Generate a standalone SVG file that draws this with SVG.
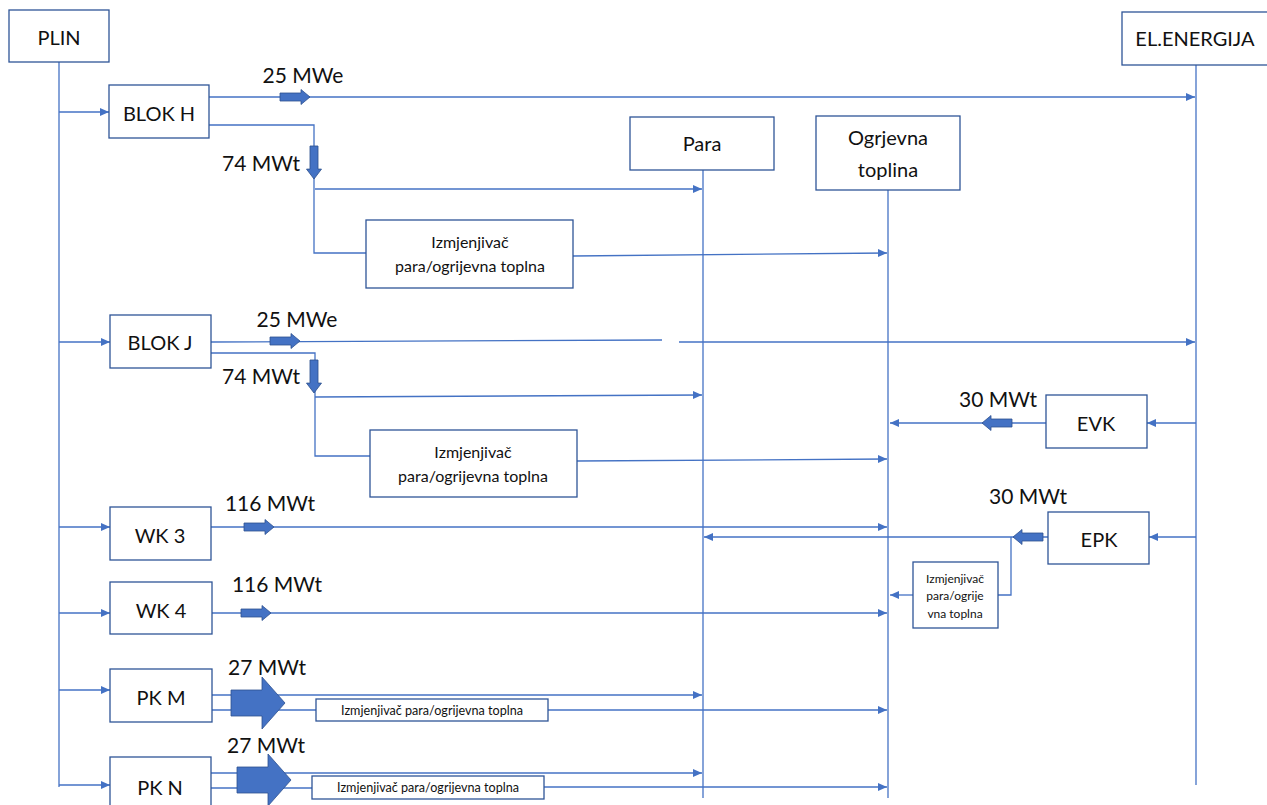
<svg xmlns="http://www.w3.org/2000/svg" width="1267" height="805" viewBox="0 0 1267 805">
<style>
.box{fill:#fff;stroke:#2F5597;stroke-width:1.3}
.ln{fill:none;stroke:#4472C4;stroke-width:1.3}
.ar{marker-end:url(#ah)}
.thk{fill:#4472C4;stroke:#2F528F;stroke-width:0.8}
.t{font-family:Lato,"Liberation Sans",sans-serif;fill:#111;text-anchor:middle}
.n{font-size:20px}
.lb{font-size:21px}
.m{font-size:16px}
.s{font-size:12px}
.s2{font-size:12.6px}
</style>
<defs>
<marker id="ah" markerUnits="userSpaceOnUse" markerWidth="10" markerHeight="10" refX="9" refY="4" orient="auto">
<path d="M0,0 L9,4 L0,8 z" fill="#4472C4"/>
</marker>
<path id="ma" d="M-30,-4 H-9 V-7.5 L0,0 L-9,7.5 V4 H-30 Z"/>
<path id="ba" d="M-54,-13 H-23 V-26 L0,0 L-23,26 V13 H-54 Z"/>
</defs>

<g id="connectors">
<path class="ln" d="M59,62 V787"/>
<path class="ln" d="M703,170 V798"/>
<path class="ln" d="M888,190 V798"/>
<path class="ln" d="M1196,65 V785"/>
<path class="ln ar" d="M59,112 H109"/>
<path class="ln ar" d="M59,342 H110"/>
<path class="ln ar" d="M59,527 H110"/>
<path class="ln ar" d="M59,613 H110"/>
<path class="ln ar" d="M59,690 H110"/>
<path class="ln ar" d="M59,785 H110"/>
<path class="ln ar" d="M209,97 H1195"/>
<path class="ln" d="M209,125 H314 V253 H366"/>
<path class="ln ar" d="M315,189 H702"/>
<path class="ln ar" d="M573,256 L887,253"/>
<path class="ln" d="M211,342 L662,340"/>
<path class="ln ar" d="M679,342 H1195"/>
<path class="ln" d="M211,353 H315 V456 H370"/>
<path class="ln ar" d="M315,397 L702,395"/>
<path class="ln ar" d="M577,461 L887,459"/>
<path class="ln ar" d="M1196,423 H1147"/>
<path class="ln ar" d="M1046,423 H890"/>
<path class="ln ar" d="M1196,537 H1149"/>
<path class="ln ar" d="M1048,537 H704"/>
<path class="ln" d="M1011,537 V595 H998"/>
<path class="ln ar" d="M913,595 H890"/>
<path class="ln ar" d="M211,527 H887"/>
<path class="ln ar" d="M212,613 H887"/>
<path class="ln ar" d="M212,695 H702"/>
<path class="ln" d="M212,710 H316"/>
<path class="ln ar" d="M548,710 H887"/>
<path class="ln ar" d="M211,773 H702"/>
<path class="ln" d="M211,788 H312"/>
<path class="ln ar" d="M544,787 H887"/>
<use href="#ma" class="thk" transform="translate(310,97)"/>
<use href="#ma" class="thk" transform="translate(314,179) rotate(90) scale(1.1,1)"/>
<use href="#ma" class="thk" transform="translate(300,341)"/>
<use href="#ma" class="thk" transform="translate(314,393) rotate(90) scale(1.1,1)"/>
<use href="#ma" class="thk" transform="translate(274,527)"/>
<use href="#ma" class="thk" transform="translate(271,613)"/>
<use href="#ma" class="thk" transform="translate(982,423) rotate(180)"/>
<use href="#ma" class="thk" transform="translate(1013,537) rotate(180)"/>
<use href="#ba" class="thk" transform="translate(285,703)"/>
<use href="#ba" class="thk" transform="translate(291,780)"/>
</g>

<g id="labels">
<text class="t lb" x="303" y="83">25 MWe</text>
<text class="t lb" x="261" y="171">74 MWt</text>
<text class="t lb" x="297" y="327">25 MWe</text>
<text class="t lb" x="261" y="384">74 MWt</text>
<text class="t lb" x="998" y="407">30 MWt</text>
<text class="t lb" x="1028" y="504">30 MWt</text>
<text class="t lb" x="270" y="511">116 MWt</text>
<text class="t lb" x="277" y="592">116 MWt</text>
<text class="t lb" x="267" y="675">27 MWt</text>
<text class="t lb" x="266" y="753">27 MWt</text>
</g>

<g id="plin"><rect class="box" x="9" y="10" width="100" height="52"/><text class="t n" x="59" y="45">PLIN</text></g>
<g id="el-energija"><rect class="box" x="1122" y="12" width="150" height="53"/><text class="t n" x="1195" y="46">EL.ENERGIJA</text></g>
<g id="blok-h"><rect class="box" x="109" y="85" width="100" height="53"/><text class="t n" x="159" y="121">BLOK H</text></g>
<g id="para"><rect class="box" x="630" y="117" width="144" height="53"/><text class="t n" x="702" y="151">Para</text></g>
<g id="ogrjevna"><rect class="box" x="816" y="116" width="144" height="74"/><text class="t n" x="888" y="145">Ogrjevna</text><text class="t n" x="888" y="177">toplina</text></g>
<g id="izm-h"><rect class="box" x="366" y="220" width="207" height="68"/><text class="t m" x="470" y="248">Izmjenjivač</text><text class="t m" x="470" y="272">para/ogrijevna toplna</text></g>
<g id="blok-j"><rect class="box" x="110" y="315" width="101" height="53"/><text class="t n" x="160" y="350">BLOK J</text></g>
<g id="izm-j"><rect class="box" x="370" y="430" width="207" height="67"/><text class="t m" x="473" y="458">Izmjenjivač</text><text class="t m" x="473" y="482">para/ogrijevna toplna</text></g>
<g id="evk"><rect class="box" x="1046" y="395" width="101" height="53"/><text class="t n" x="1096" y="431">EVK</text></g>
<g id="epk"><rect class="box" x="1048" y="512" width="101" height="52"/><text class="t n" x="1099" y="547">EPK</text></g>
<g id="izm-epk"><rect class="box" x="913" y="562" width="85" height="66"/><text class="t s" x="955" y="583">Izmjenjivač</text><text class="t s" x="955" y="600">para/ogrije</text><text class="t s" x="955" y="618">vna toplna</text></g>
<g id="wk3"><rect class="box" x="110" y="507" width="101" height="53"/><text class="t n" x="160" y="543">WK 3</text></g>
<g id="wk4"><rect class="box" x="110" y="582" width="102" height="52"/><text class="t n" x="161" y="618">WK 4</text></g>
<g id="pkm"><rect class="box" x="110" y="669" width="102" height="53"/><text class="t n" x="161" y="705">PK M</text></g>
<g id="izm-pkm"><rect class="box" x="316" y="699" width="232" height="22"/><text class="t s2" x="432" y="715">Izmjenjivač para/ogrijevna toplna</text></g>
<g id="pkn"><rect class="box" x="110" y="757" width="101" height="55"/><text class="t n" x="160" y="795">PK N</text></g>
<g id="izm-pkn"><rect class="box" x="312" y="776" width="232" height="23"/><text class="t s2" x="428" y="792">Izmjenjivač para/ogrijevna toplna</text></g>
</svg>
